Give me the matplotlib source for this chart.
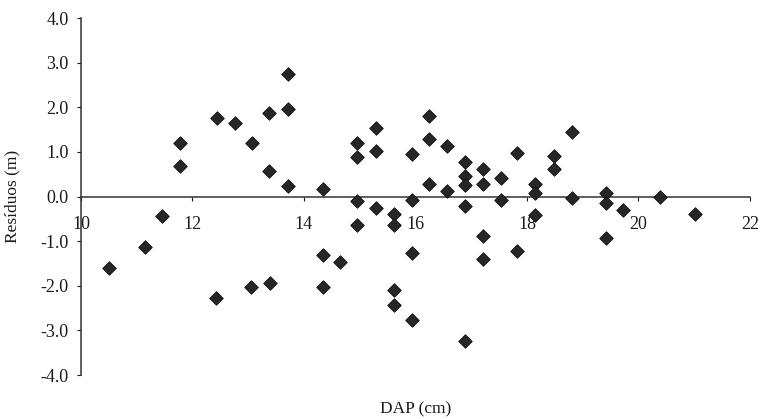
import matplotlib
matplotlib.use("Agg")
import matplotlib.pyplot as plt
from matplotlib.ticker import FormatStrFormatter

plt.rcParams['font.family'] = ['Liberation Serif', 'DejaVu Serif']
plt.rcParams['axes.unicode_minus'] = False

dap = [10.50, 11.15, 11.46, 11.78, 11.78, 12.44, 12.43, 12.76, 13.06, 13.05,
       13.38, 13.38, 13.39, 13.72, 13.72, 13.72, 14.35, 14.35, 14.35, 14.64,
       14.96, 14.96, 14.96, 14.96, 15.30, 15.30, 15.30, 15.61, 15.61, 15.61,
       15.61, 15.94, 15.94, 15.94, 15.94, 16.24, 16.24, 16.24, 16.57, 16.57,
       16.89, 16.89, 16.89, 16.89, 16.89, 17.21, 17.21, 17.21, 17.21, 17.54,
       17.54, 17.82, 17.82, 18.15, 18.15, 18.15, 18.48, 18.48, 18.80, 18.80,
       19.41, 19.41, 19.41, 19.73, 20.39, 21.01]
residuos = [-1.61, -1.14, -0.43, 1.19, 0.69, 1.75, -2.27, 1.64, 1.19, -2.02,
            1.88, 0.57, -1.94, 2.74, 1.95, 0.23, 0.16, -1.32, -2.03, -1.47,
            1.20, 0.88, -0.10, -0.63, 1.54, 1.02, -0.25, -0.40, -0.63, -2.09,
            -2.44, 0.96, -0.07, -1.26, -2.77, 1.80, 1.28, 0.27, 1.13, 0.13,
            0.77, 0.46, 0.25, -0.22, -3.24, 0.62, 0.28, -0.89, -1.41, 0.42,
            -0.08, 0.98, -1.23, 0.29, 0.08, -0.42, 0.90, 0.61, 1.45, -0.04,
            0.07, -0.14, -0.94, -0.31, -0.01, -0.39]

x_ticks = [10, 12, 14, 16, 18, 20, 22]
y_ticks = [-4.0, -3.0, -2.0, -1.0, 0.0, 1.0, 2.0, 3.0, 4.0]

fig = plt.figure(figsize=(7.61, 4.19), dpi=100)
ax = fig.add_axes([0.1064, 0.105, 0.879, 0.852])

ax.scatter(dap, residuos, marker='D', s=48, color='#262626',
           edgecolors='#111111', linewidths=0.6, zorder=3)

ax.set_xlim(10, 22)
ax.set_ylim(-4.0, 4.0)
ax.set_xticks(x_ticks)
ax.set_yticks(y_ticks)
ax.yaxis.set_major_formatter(FormatStrFormatter('%.1f'))

ax.spines['top'].set_visible(False)
ax.spines['right'].set_visible(False)
ax.spines['bottom'].set_position(('data', 0))
for sp in ('left', 'bottom'):
    ax.spines[sp].set_color('#333333')
    ax.spines[sp].set_linewidth(1.1)

ax.tick_params(axis='x', direction='out', length=3, pad=11, labelsize=13,
               colors='#1a1a1a')
ax.tick_params(axis='y', direction='out', length=3, pad=6, labelsize=13,
               colors='#1a1a1a')

ax.set_xlabel('DAP (cm)', fontsize=12.5, color='#1a1a1a')
ax.xaxis.set_label_coords(0.5, -0.075)
ax.set_ylabel('Resíduos (m)', fontsize=12.5, color='#1a1a1a')
ax.yaxis.set_label_coords(-0.09, 0.5)

fig.savefig('out.png', dpi=100)
